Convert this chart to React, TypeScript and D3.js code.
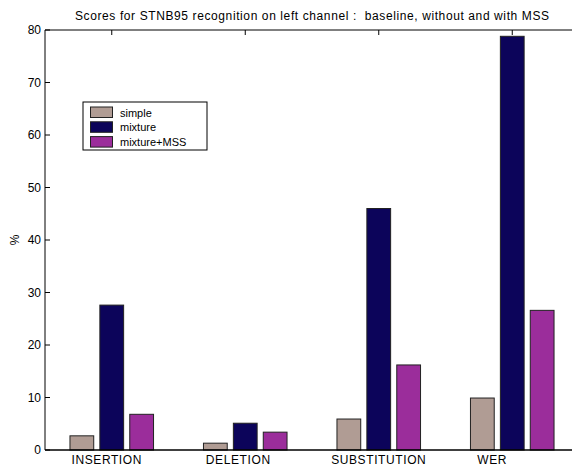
import React from "react";
import * as d3 from "d3";

const categories = ["INSERTION", "DELETION", "SUBSTITUTION", "WER"];
const seriesNames = ["simple", "mixture", "mixture+MSS"];
const simpleValues = [2.7, 1.3, 5.9, 9.9];
const mixtureValues = [27.6, 5.1, 46.0, 78.8];
const mssValues = [6.8, 3.4, 16.2, 26.6];
const yTicks = [0, 10, 20, 30, 40, 50, 60, 70, 80];
const colors = ["#b09c94", "#0c045a", "#9b2d9b"];
const title = "Scores for STNB95 recognition on left channel :  baseline, without and with MSS";
// small horizontal nudges of the category labels (px), as in the reference rendering
const labelNudge = [-5, -7, 0, -20];

const W = 572;
const H = 468;

export default function App() {
  const x = d3.scaleLinear().domain([0.5, 4.5]).range([45, 579]);
  const y = d3.scaleLinear().domain([0, 80]).range([450, 30]);
  const series = [simpleValues, mixtureValues, mssValues];
  const offsets = [-0.224, 0, 0.224];
  const bw = 0.178;
  const font = "'Liberation Sans', Arial, Helvetica, sans-serif";
  const unit = x(1) - x(0);

  return (
    <svg width={W} height={H} style={{ position: "absolute", left: 0, top: 0, background: "#fff" }}>
      <rect x={0} y={0} width={W} height={H} fill="#fff" />
      {series.map((vals, si) =>
        vals.map((v, ci) => {
          const cx = x(ci + 1 + offsets[si]);
          return (
            <rect
              key={`${si}-${ci}`}
              x={cx - (bw * unit) / 2}
              y={y(v)}
              width={bw * unit}
              height={y(0) - y(v)}
              fill={colors[si]}
              stroke="#222"
              strokeWidth={1}
            />
          );
        })
      )}
      <line x1={45} y1={30} x2={579} y2={30} stroke="#000" strokeWidth={1} />
      <line x1={45} y1={450} x2={579} y2={450} stroke="#000" strokeWidth={1.6} />
      <line x1={45} y1={30} x2={45} y2={450} stroke="#000" strokeWidth={1} />
      {yTicks.map((t) => (
        <g key={t}>
          <line x1={45} y1={y(t)} x2={50} y2={y(t)} stroke="#000" />
          <text x={41} y={y(t) + 4} textAnchor="end" fontFamily={font} fontSize={12} fill="#000">
            {t}
          </text>
        </g>
      ))}
      {categories.map((c, i) => (
        <g key={c}>
          <line x1={x(i + 1)} y1={30} x2={x(i + 1)} y2={35} stroke="#000" />
          <text
            x={x(i + 1) + labelNudge[i]}
            y={464}
            textAnchor="middle"
            fontFamily={font}
            fontSize={12}
            letterSpacing={0.6}
            fill="#000"
          >
            {c}
          </text>
        </g>
      ))}
      <text
        transform={`translate(19,${y(40)}) rotate(-90)`}
        textAnchor="middle"
        fontFamily={font}
        fontSize={12}
        fill="#000"
      >
        %
      </text>
      <text
        x={75}
        y={20}
        fontFamily={font}
        fontSize={12}
        fill="#000"
        textLength={474}
        lengthAdjust="spacing"
        style={{ whiteSpace: "pre" }}
      >
        {title}
      </text>
      <rect x={83} y={102} width={124} height={48} fill="#fff" stroke="#000" strokeWidth={1} />
      {seriesNames.map((n, i) => (
        <g key={n}>
          <rect x={90.5} y={107 + i * 14.8} width={22} height={10.5} fill={colors[i]} stroke="#222" />
          <text x={120} y={116.5 + i * 14.8} fontFamily={font} fontSize={11} fill="#000">
            {n}
          </text>
        </g>
      ))}
    </svg>
  );
}
